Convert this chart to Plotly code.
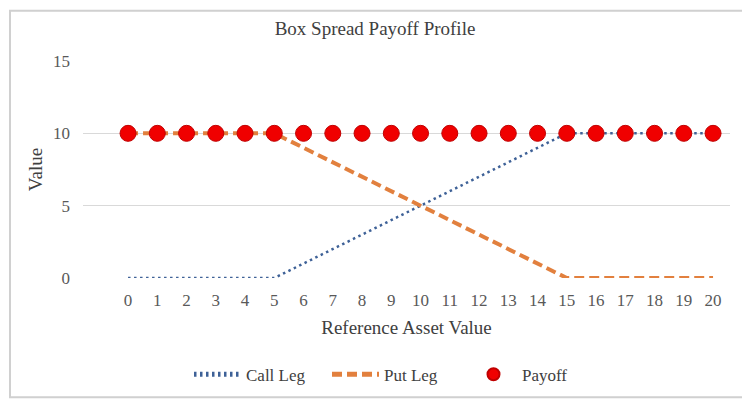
import plotly.graph_objects as go

# reference asset values along the category axis
asset_values = list(range(0, 21))
call_leg = [0, 0, 0, 0, 0, 0, 1, 2, 3, 4, 5, 6, 7, 8, 9, 10, 10, 10, 10, 10, 10]
put_leg = [10, 10, 10, 10, 10, 10, 9, 8, 7, 6, 5, 4, 3, 2, 1, 0, 0, 0, 0, 0, 0]
payoff = [10] * 21
y_ticks = [0, 5, 10, 15]

serif = "Liberation Serif, Times New Roman, serif"

fig = go.Figure()
fig.add_trace(go.Scatter(
    x=asset_values, y=call_leg, name="Call Leg", mode="lines",
    line=dict(color="#3E6197", width=2.5, dash="2.5px,3.5px"),
))
fig.add_trace(go.Scatter(
    x=asset_values, y=put_leg, name="Put Leg", mode="lines",
    line=dict(color="#E2803E", width=4, dash="10px,5px"),
))
fig.add_trace(go.Scatter(
    x=asset_values, y=payoff, name="Payoff", mode="markers",
    marker=dict(color="#F00000", size=16, line=dict(color="#C00000", width=1)),
))

# the page body adds an 8px offset, so the figure is sized to fit
fig.update_layout(
    width=742, height=396,
    margin=dict(l=75, r=20, t=53, b=123),
    paper_bgcolor="white",
    plot_bgcolor="white",
    font=dict(family=serif, size=17, color="#595959"),
    title=dict(text="Box Spread Payoff Profile", x=(375 - 8) / 742, xanchor="center",
               y=1 - 20 / 396, yref="container", yanchor="middle",
               font=dict(family=serif, size=19, color="#404040")),
    showlegend=True,
    legend=dict(orientation="h", x=(181 - 75) / 647, xanchor="left",
                y=-98 / 220, yanchor="middle",
                font=dict(family=serif, size=17, color="#404040"),
                itemwidth=47, itemsizing="constant",
                entrywidth=76, entrywidthmode="pixels", tracegroupgap=0),
    shapes=[dict(type="rect", xref="paper", yref="paper",
                 x0=-73 / 647, x1=1 + 18 / 647, y0=-121 / 220, y1=1 + 51 / 220,
                 line=dict(color="#D0D0D0", width=2))],
)
fig.update_xaxes(
    range=[-1.54, 20.58],
    tickvals=asset_values,
    ticktext=[str(v) for v in asset_values],
    showgrid=False, zeroline=False, showline=False,
    ticklabelstandoff=10,
    title=dict(text="Reference Asset Value", standoff=11,
               font=dict(family=serif, size=19, color="#404040")),
)
fig.update_yaxes(
    range=[0, 15],
    tickvals=y_ticks,
    showgrid=True, gridcolor="#D9D9D9", gridwidth=1,
    zeroline=False, showline=False,
    ticklabelstandoff=12,
    title=dict(text="Value", standoff=5,
               font=dict(family=serif, size=19, color="#404040")),
)

fig.write_html("out.html")
